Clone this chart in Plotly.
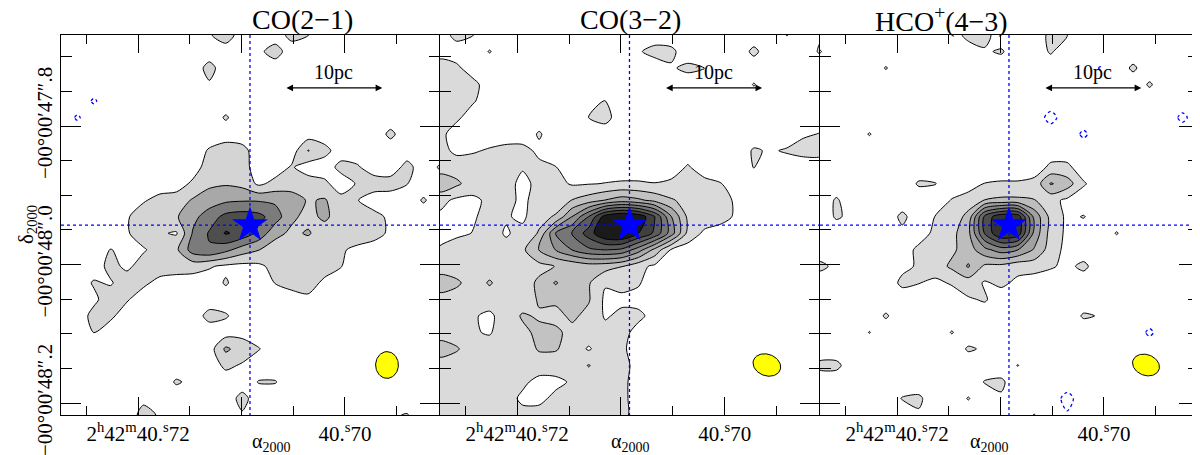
import numpy as np
import plotly.graph_objects as go

# ---------------- axes (RA seconds of 2h42m, |Dec| arcsec of -00d00m) ----------------
RA_LEFT, RA_RIGHT = 40.72744, 40.69082
DEC_TOP, DEC_BOTTOM = 47.6686, 48.2173
NX = NY = 24

PANEL_TITLES = ["CO(2−1)", "CO(3−2)", "HCO<sup>+</sup>(4−3)"]
STAR_RA, STAR_DEC = 40.70918, 47.943

X_TICKVALS = [40.72, 40.71, 40.70]
X_TICKTEXT = ["2<sup>h</sup>42<sup>m</sup>40.<sup>s</sup>72", "", "40.<sup>s</sup>70"]
Y_TICKVALS = [47.8, 48.0, 48.2]
Y_TICKTEXT = ["−00°00′47″.8", "−00°00′48″.0", "−00°00′48″.2"]

SCALEBAR_RA = [40.7058, 40.6964]
SCALEBAR_DEC = 47.745
SCALEBAR_LABEL = "10pc"

# beam: centre (RA s, |Dec| arcsec), full major, full minor (arcsec), PA (deg)
BEAM_RA, BEAM_DEC = 40.69594, 48.1451
BEAM_MAJ = [0.0385, 0.041, 0.040]
BEAM_MIN = [0.0330, 0.031, 0.030]
BEAM_PA = [0.0, 70.0, 70.0]

# ---------------- integrated-intensity maps (contour-level units) ----------------
CO21_ROWS = [
    "0 0 0 0 0 0 0 0 0 .4 1 0 0 0 .8 .5 0 0 0 0 0 0 0 0",
    "0 0 0 0 0 0 0 0 0 0 0 0 .3 .9 0 0 0 0 0 0 0 0 0 0",
    "0 0 0 0 0 0 0 0 0 .8 0 0 0 0 0 0 0 0 0 0 0 0 0 0",
    "0 0 0 0 0 0 0 0 0 .4 0 0 0 0 0 0 0 0 0 0 0 0 0 0",
    "0 0 -.6 0 0 0 0 0 0 0 0 0 0 0 0 0 0 0 0 0 0 0 0 0",
    "0 -.6 0 0 0 0 0 0 0 0 .6 0 0 0 0 0 0 0 0 0 0 0 0 0",
    "0 0 0 0 0 0 0 0 0 0 0 0 0 0 0 0 0 0 0 0 .7 0 0 0",
    "0 0 0 0 0 0 0 0 0 .6 1 .8 0 0 0 1.55 .8 0 0 0 0 0 0 0",
    "0 0 0 0 0 0 0 0 0 1 1.2 .9 0 0 .6 0 0 .8 .6 0 0 .8 0 .6",
    "0 0 0 0 0 0 0 0 .7 1.3 1.4 1.2 .3 .8 1 1 .7 0 .6 1 .9 .5 0 0",
    "0 0 0 0 0 .4 .8 1 1.6 2 2.3 2.4 2.4 2.3 2 1.4 1.6 .8 .5 0 0 0 .6 0",
    "0 0 0 0 .4 1 1.2 1.4 2.2 3 3.8 4 3.8 3 1.7 1.2 1.7 1 1 .8 .3 0 0 0",
    "0 0 0 0 .4 1 .6 .4 2.6 3.6 4.6 4.2 3.2 1.8 1.3 1.6 1 .8 1 .9 .3 0 0 0",
    "0 0 0 .5 .3 .4 .9 1.3 3 3.4 2.8 2 1.5 1 1 .9 .6 .6 .3 0 0 0 0 0",
    "0 0 0 .8 .3 .9 1 1 .9 .6 .3 .2 .3 .8 1 1 .9 .5 0 0 0 0 0 0",
    "0 0 .6 .4 1 .7 .2 0 0 0 .6 0 0 .5 .9 .9 .3 0 0 0 0 0 0 0",
    "0 0 .3 1 .6 0 0 0 0 0 0 0 0 0 0 .3 0 0 0 0 0 0 0 0",
    "0 0 .8 .7 0 0 0 0 0 .8 .6 0 0 0 0 0 0 0 0 0 0 0 0 0",
    "0 0 .5 0 0 0 0 0 0 0 0 .2 0 0 0 0 0 0 0 0 0 0 0 0",
    "0 0 0 0 0 0 0 0 0 0 1.7 1 .55 0 0 0 0 0 0 0 0 0 0 0",
    "0 0 0 0 0 0 0 0 0 0 .7 .4 0 0 0 0 0 0 0 0 0 0 0 0",
    "0 0 0 0 0 0 0 .6 .3 0 0 0 .55 .55 0 0 0 0 0 0 0 0 0 0",
    "0 0 0 0 0 .3 0 0 0 0 0 .8 0 0 0 0 0 0 0 0 0 0 0 0",
    "0 0 0 0 0 .8 .4 0 0 0 0 .4 0 0 0 0 0 0 0 0 .4 .55 0 0",
]

CO32_ROWS = [
    "0 .8 .5 0 0 0 0 0 0 0 0 0 0 0 0 0 0 0 0 0 0 .5 0 .4",
    "0 0 0 .55 0 0 0 0 0 0 0 0 .4 .8 .7 0 0 0 0 .7 0 0 0 .6",
    "1.1 .7 0 0 0 0 0 0 0 0 0 0 0 0 .4 .7 .5 0 0 0 0 0 0 0",
    "1.2 1.1 .8 0 0 0 0 0 0 0 0 0 0 0 0 0 0 0 0 .55 0 0 0 0",
    "1.2 1 .6 0 0 0 0 0 0 0 .5 0 0 0 0 0 0 0 0 0 0 0 0 0",
    "1.1 .7 0 0 0 0 0 0 0 .5 .8 0 0 0 0 0 0 0 0 0 0 0 0 0",
    ".8 0 0 0 0 0 .6 0 0 0 0 0 0 0 0 0 0 0 0 0 0 0 .4 .5",
    ".8 .3 .4 .6 .8 .8 .3 0 0 0 0 0 0 0 0 0 0 0 0 .6 .4 .6 .8 .8",
    "1 1 1 1 1 .6 .7 .5 0 0 0 0 0 0 0 .6 0 0 0 .5 0 0 0 0",
    "2.2 1.7 1 1 .9 .2 .8 .8 .4 .45 .5 .6 .6 .5 .7 .8 .8 .5 0 0 0 0 0 0",
    ".8 .3 .3 .7 .8 .3 .9 1 1.5 2 2.5 3 2.7 2.2 1.6 1.2 1 .9 .3 0 0 0 0 0",
    ".3 .2 .4 .8 .6 .3 1.2 1.6 3.5 5.5 8 8.7 8.3 6.5 3.5 1.3 1.1 .9 .3 0 0 0 0 0",
    ".2 .3 .5 .9 .4 .8 1.6 4.5 5.5 7 8.5 8.8 7.5 6.3 4 1.2 .3 0 0 0 0 0 0 0",
    ".6 1 1 1 .8 1.3 2.5 3.5 4.5 5.3 5.5 5.3 4 2.2 .4 0 0 0 0 0 0 0 0 0",
    ".8 .9 1 1 1 1 1.2 1.5 1.7 2 1.9 1.5 .8 .3 0 0 0 0 0 0 0 0 0 0",
    "2.2 1.7 1 1.6 1 1 1.7 2.6 1.8 1.6 .6 .8 .6 0 0 0 0 0 0 0 0 0 0 0",
    "1 1 1 1 1 1 1.6 1.7 1.7 1.6 .3 .3 .2 0 0 0 0 0 0 0 0 0 0 0",
    "1 1 .6 .3 1 1.6 1.4 1.2 1.7 1.2 .4 .7 .7 .2 0 0 0 0 0 0 0 0 0 0",
    "1 1 .6 .4 1.1 1.3 1.7 1.7 1.2 1 .8 .8 .2 0 0 0 0 0 0 0 0 0 0 0",
    "2 1.6 1 1 1 1 1.6 1.6 1 .4 1 .7 0 0 0 0 0 0 0 0 0 0 0 0",
    "1 1 1 1 1 1 1 .9 1 1.55 1 .8 .2 0 0 0 0 0 0 0 0 0 0 0",
    "1 1 1 1 1 .7 .2 .3 .6 1 1 .8 0 0 0 0 0 0 0 0 0 0 0 0",
    "1 1 1 1 .9 .3 .3 .7 1 1 1 .8 0 0 0 0 0 0 0 0 0 0 0 0",
    "1 1 1 1 1 .8 .8 1 1 1 1 .7 .2 0 0 0 0 0 0 0 0 0 0 0",
]

HCO_ROWS = [
    "0 0 0 0 0 0 0 0 0 .8 .8 0 0 0 .7 .5 0 0 0 0 0 0 0 0",
    ".55 0 0 0 0 0 0 0 0 0 .4 .6 0 0 .6 0 0 0 0 0 0 0 0 0",
    "0 0 0 0 .55 0 0 0 0 0 0 0 0 0 0 0 0 -.55 0 .65 0 0 0 0",
    "0 0 0 0 0 0 0 0 0 0 0 0 0 0 0 0 0 0 0 0 .6 0 0 0",
    "0 0 0 0 0 0 0 0 0 0 0 0 0 0 0 0 0 0 0 0 0 0 0 0",
    "0 0 0 0 0 0 0 0 0 0 0 0 0 0 -.8 0 0 0 0 0 0 0 -.7 0",
    "0 0 0 .55 0 0 0 0 0 0 0 0 0 0 0 0 -.65 0 0 0 0 0 0 0",
    "0 0 0 0 0 0 0 0 0 0 0 0 0 0 0 0 0 0 0 0 0 0 0 0",
    "0 0 0 0 0 0 0 0 0 0 0 0 0 0 .7 .7 0 0 0 0 0 0 0 0",
    "0 0 0 0 0 0 .6 .5 0 0 .5 .6 .6 .8 2.6 2 .6 0 0 0 0 0 0 0",
    "0 .6 0 0 0 0 0 0 .55 1 1.5 1.7 1.7 1.55 .8 .3 0 0 0 0 0 0 0 0",
    "0 .6 .3 0 0 .7 0 .5 .9 1.8 5.8 7.3 7.2 3.2 1.2 .3 .55 0 0 0 0 0 0 0",
    "0 0 0 0 0 .3 .3 .6 1.2 2.2 5.6 7.5 7.2 3.2 1.1 .3 0 0 .55 0 0 0 0 0",
    "0 0 0 0 0 .3 .6 .9 1.3 2 3.2 4 3.5 2.4 1 .2 0 0 0 0 0 0 0 0",
    ".7 .3 0 0 0 .3 .6 1 1.7 2.6 1.3 1.2 .8 .9 .6 .3 .7 0 0 0 0 0 0 0",
    "0 0 0 0 0 .7 .5 .3 .6 1 .4 .7 .3 0 0 0 0 0 0 0 0 0 0 0",
    "0 0 0 0 0 0 0 0 0 .4 .6 0 0 0 0 0 0 0 0 0 0 0 0 0",
    "0 0 0 0 .6 0 0 0 0 0 0 0 0 0 0 0 .6 .45 0 0 0 0 0 0",
    "0 0 0 .5 0 0 0 0 .55 0 0 0 0 0 0 0 0 0 0 0 -.65 0 0 0",
    "0 0 0 0 0 0 0 0 0 .6 .4 0 0 0 0 0 0 0 0 0 0 0 0 0",
    ".7 .7 0 0 0 0 0 0 0 0 0 0 .5 0 0 0 0 0 0 0 0 0 0 0",
    "0 0 0 0 0 0 0 0 0 0 .55 .65 0 0 0 0 0 0 0 0 0 0 0 0",
    "0 0 0 0 0 .55 .65 0 0 .55 0 .4 0 0 0 -.8 0 0 0 0 0 0 0 0",
    "0 0 0 0 0 0 .4 0 0 0 0 0 0 .5 0 -.4 0 0 0 0 0 0 0 0",
]

# grey fills per contour band (band 0 = below first contour)
GRAYS_CO21 = ["#ffffff", "#d4d4d4", "#a8a8a8", "#7b7b7b", "#4e4e4e", "#1e1e1e"]
GRAYS_CO32 = ["#ffffff", "#dadada", "#c2c2c2", "#a9a9a9", "#8f8f8f", "#767676",
              "#5c5c5c", "#404040", "#1a1a1a"]
GRAYS_HCO = ["#ffffff", "#d9d9d9", "#bdbdbd", "#a1a1a1", "#858585", "#696969",
             "#4d4d4d", "#333333"]

MAPS = [CO21_ROWS, CO32_ROWS, HCO_ROWS]
GRAYS = [GRAYS_CO21, GRAYS_CO32, GRAYS_HCO]


def parse(rows):
    arr = [[float(v) for v in r.split()] for r in rows]
    for r in arr:
        assert len(r) == NX, len(r)
    assert len(arr) == NY
    z = np.array(arr)
    # keep grid values off the contour levels themselves (avoids degenerate paths)
    on_level = np.isclose(np.abs(z) % 1.0, 0.5)
    z = np.where(on_level, z + 0.03 * np.sign(z), z)
    # zero border just outside the visible frame so every contour closes (clipped away)
    return np.pad(z, 1, mode="constant", constant_values=0.0)


dx = (RA_RIGHT - RA_LEFT) / (NX - 1)
dy = (DEC_BOTTOM - DEC_TOP) / (NY - 1)
xs = np.linspace(RA_LEFT - dx, RA_RIGHT + dx, NX + 2)
ys = np.linspace(DEC_TOP - dy, DEC_BOTTOM + dy, NY + 2)

FONT = "Liberation Serif"
fig = go.Figure()
DOMAINS = [[0.0, 0.33304], [0.33304, 0.66696], [0.66696, 1.0]]

shapes = []
annotations = []
t = np.linspace(0, 2 * np.pi, 73)

for k in range(3):
    sfx = "" if k == 0 else str(k + 1)
    xa, ya = "x" + sfx, "y" + sfx
    z = parse(MAPS[k])
    grays = GRAYS[k]
    n = len(grays) - 1
    cscale = [[i / n, grays[i]] for i in range(n + 1)]
    fig.add_trace(go.Contour(
        x=xs, y=ys, z=z, xaxis=xa, yaxis=ya, autocontour=False,
        contours=dict(start=0.5, end=n - 0.5, size=1, coloring="fill", showlines=True),
        colorscale=cscale, showscale=False, hoverinfo="skip",
        line=dict(color="black", width=1, smoothing=0.75)))
    fig.add_trace(go.Contour(
        x=xs, y=ys, z=z, xaxis=xa, yaxis=ya, autocontour=False,
        contours=dict(start=-0.5, end=-0.5, size=1, coloring="none"),
        showscale=False, hoverinfo="skip",
        line=dict(color="blue", width=1.3, dash="dot", smoothing=0.9)))

    # beam ellipse (semi-axes = half of full widths)
    a, b, pa = BEAM_MAJ[k] / 2, BEAM_MIN[k] / 2, np.radians(BEAM_PA[k])
    de = a * np.cos(t) * np.sin(pa) - b * np.sin(t) * np.cos(pa)
    dn = a * np.cos(t) * np.cos(pa) + b * np.sin(t) * np.sin(pa)
    fig.add_trace(go.Scatter(
        x=BEAM_RA + de / 15.0, y=BEAM_DEC - dn, xaxis=xa, yaxis=ya, mode="lines",
        fill="toself", fillcolor="#ffff00", line=dict(color="black", width=1),
        hoverinfo="skip", showlegend=False))

    # star
    fig.add_trace(go.Scatter(
        x=[STAR_RA], y=[STAR_DEC], xaxis=xa, yaxis=ya, mode="markers",
        marker=dict(symbol="star", size=27, color="blue", line=dict(width=0)),
        hoverinfo="skip", showlegend=False))

    # dotted cross-hair
    shapes.append(dict(type="line", xref=xa, yref=ya, x0=STAR_RA, x1=STAR_RA,
                       y0=DEC_TOP, y1=DEC_BOTTOM,
                       line=dict(color="blue", width=1.3, dash="dot")))
    shapes.append(dict(type="line", xref=xa, yref=ya, x0=RA_LEFT, x1=RA_RIGHT,
                       y0=STAR_DEC, y1=STAR_DEC,
                       line=dict(color="blue", width=1.3, dash="dot")))

    # scale bar
    annotations.append(dict(xref=xa, yref=ya, axref=xa, ayref=ya,
                            x=SCALEBAR_RA[1], y=SCALEBAR_DEC,
                            ax=SCALEBAR_RA[0], ay=SCALEBAR_DEC, text="",
                            showarrow=True, arrowside="end+start", arrowhead=2,
                            startarrowhead=2, arrowsize=1.1, startarrowsize=1.1,
                            arrowwidth=1.2, arrowcolor="black"))
    annotations.append(dict(xref=xa, yref=ya, x=(SCALEBAR_RA[0] + SCALEBAR_RA[1]) / 2,
                            y=SCALEBAR_DEC - 0.022, text=SCALEBAR_LABEL, showarrow=False,
                            font=dict(family=FONT, size=20, color="black")))

    # titles
    xc = (DOMAINS[k][0] + DOMAINS[k][1]) / 2
    annotations.append(dict(xref="paper", yref="paper", x=xc, y=1.04, text=PANEL_TITLES[k],
                            showarrow=False, yanchor="middle",
                            font=dict(family=FONT, size=28, color="black")))
    annotations.append(dict(xref="paper", yref="paper", x=xc, y=-0.073,
                            text="α<sub>2000</sub>", showarrow=False, yanchor="middle",
                            font=dict(family=FONT, size=20, color="black")))

    axis_common = dict(showline=True, linecolor="black", linewidth=1, mirror="ticks",
                       ticks="inside", tickcolor="black", tickwidth=1,
                       showgrid=False, zeroline=False, automargin=False,
                       ticklabeloverflow="allow",
                       tickfont=dict(family=FONT, size=21, color="black"))
    fig.update_layout(**{
        "xaxis" + sfx: dict(axis_common, domain=DOMAINS[k], anchor=ya,
                            range=[RA_LEFT, RA_RIGHT], tickmode="array",
                            tickvals=X_TICKVALS, ticktext=X_TICKTEXT, ticklen=18,
                            minor=dict(ticks="inside", ticklen=9, tickcolor="black",
                                       tickwidth=1, dtick=0.005, tick0=40.70,
                                       showgrid=False)),
        "yaxis" + sfx: dict(axis_common, domain=[0, 1], anchor=xa,
                            range=[DEC_BOTTOM, DEC_TOP], tickmode="array",
                            tickvals=Y_TICKVALS, ticktext=Y_TICKTEXT, ticklen=20,
                            tickangle=-90, showticklabels=(k == 0),
                            minor=dict(ticks="inside", ticklen=11, tickcolor="black",
                                       tickwidth=1, dtick=0.05, tick0=47.8,
                                       showgrid=False)),
    })

annotations.append(dict(xref="paper", yref="paper", x=-0.043, y=0.5,
                        text="δ<sub>2000</sub>", showarrow=False, textangle=-90,
                        font=dict(family=FONT, size=21, color="black")))

# the page keeps its default 8px body margin, so the figure is sized to end at 1200x455
fig.update_layout(width=1192, height=447, margin=dict(l=53, r=1, t=27, b=40),
                  paper_bgcolor="white", plot_bgcolor="white", showlegend=False,
                  shapes=shapes, annotations=annotations)

fig.write_html("out.html", config={"displayModeBar": False})
